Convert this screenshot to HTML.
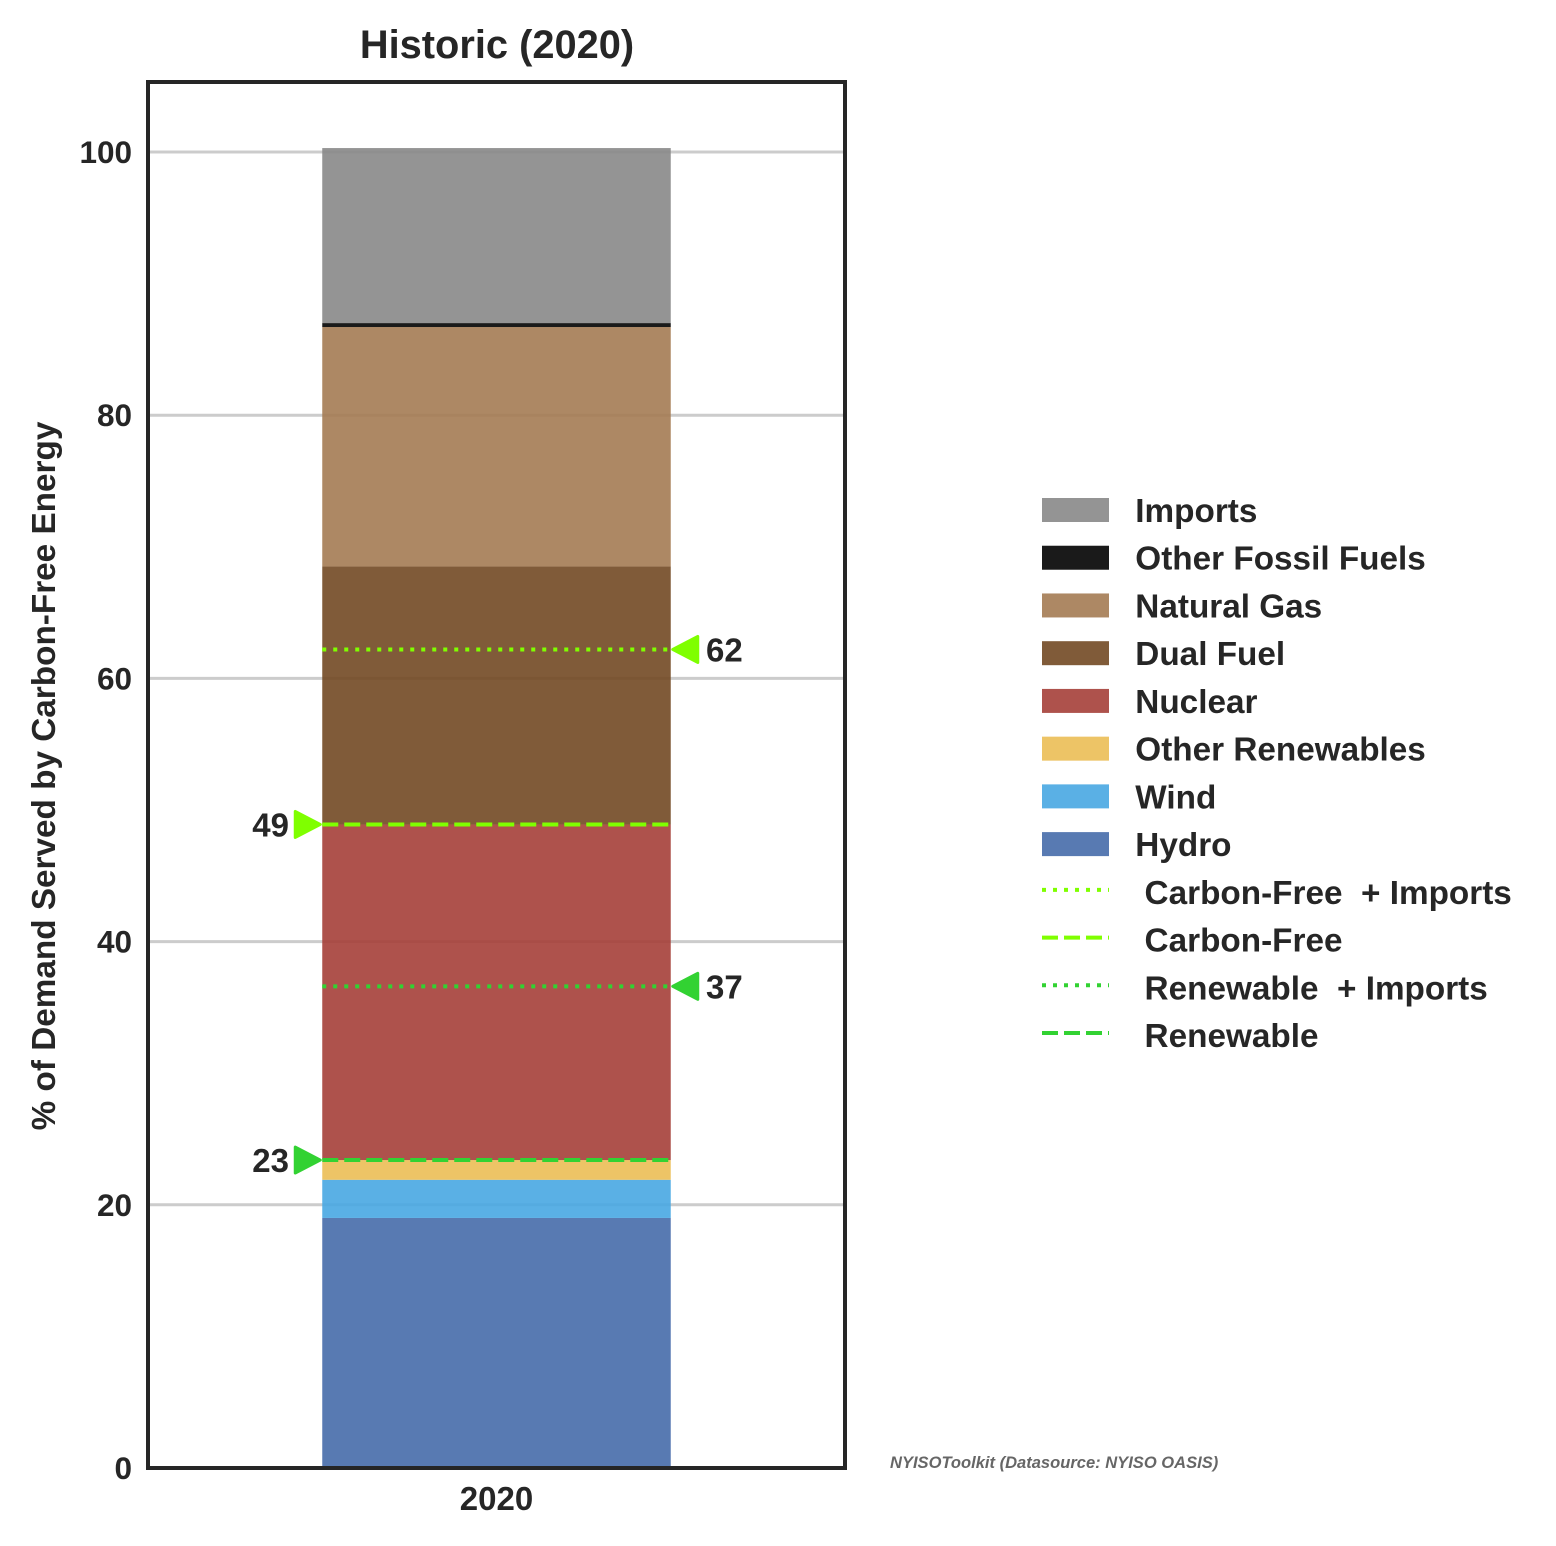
<!DOCTYPE html>
<html lang="en">
<head>
<meta charset="utf-8">
<title>Historic (2020)</title>
<style>
html,body{margin:0;padding:0;background:#fff;}
svg{display:block;}
text{font-family:"Liberation Sans",Arial,sans-serif;font-weight:bold;fill:#262626;}
</style>
</head>
<body>
<svg id="chart" xmlns="http://www.w3.org/2000/svg" width="1556" height="1546" viewBox="0 0 1556 1546"></svg>
<script>
// Chart data
const categories = ['2020'];
const yTicks = [0, 20, 40, 60, 80, 100];
const hydro = [19.0];
const wind = [2.9];
const otherRenewables = [1.5];
const nuclear = [25.5];
const dualFuel = [19.6];
const naturalGas = [18.2];
const otherFossilFuels = [0.3];
const imports = [13.3];
const carbonFreeImports = [62.2];
const carbonFree = [48.9];
const renewableImports = [36.6];
const renewable = [23.4];

const title = 'Historic (2020)';
const yTitle = '% of Demand Served by Carbon-Free Energy';
const credit = 'NYISOToolkit (Datasource: NYISO OASIS)';

const NS = 'http://www.w3.org/2000/svg';
const svg = document.getElementById('chart');
const plot = {left: 148, right: 845, top: 82, bottom: 1468};
const pxPerUnit = 13.16;
const yScale = v => plot.bottom - v * pxPerUnit;
const band = (plot.right - plot.left) / categories.length;
const xScale = i => plot.left + (i + 0.5) * band;
const barWidth = band * 0.5;

function make(tag, attrs, parent) {
  const el = document.createElementNS(NS, tag);
  for (const k in attrs) el.setAttribute(k, attrs[k]);
  (parent || svg).appendChild(el);
  return el;
}
function label(str, x, y, size, anchor, parent) {
  const t = make('text', {x: x, y: y, 'font-size': size, 'text-anchor': anchor}, parent);
  t.textContent = str;
  return t;
}

// Grid lines and y tick labels
yTicks.forEach(v => {
  const line = make('line', {x1: plot.left, x2: plot.right, y1: yScale(v), y2: yScale(v), stroke: '#cccccc', 'stroke-width': 3});
  
  
  const tick = label(String(v), 132, yScale(v) + 11, 31.5, 'end');
  
  
});

// Stacked bars, bottom to top
const stack = [
  {name: 'Hydro', key: 'hydro', values: hydro, color: '#466caa'},
  {name: 'Wind', key: 'wind', values: wind, color: '#48a7e2'},
  {name: 'Other Renewables', key: 'other-renewables', values: otherRenewables, color: '#ebbe55'},
  {name: 'Nuclear', key: 'nuclear', values: nuclear, color: '#a53f39'},
  {name: 'Dual Fuel', key: 'dual-fuel', values: dualFuel, color: '#724924'},
  {name: 'Natural Gas', key: 'natural-gas', values: naturalGas, color: '#a47b53'},
  {name: 'Other Fossil Fuels', key: 'other-fossil-fuels', values: otherFossilFuels, color: '#010101'},
  {name: 'Imports', key: 'imports', values: imports, color: '#888888'}
];
categories.forEach((cat, i) => {
  let base = 0;
  stack.forEach(s => {
    const v = s.values[i];
    const bar = make('rect', {
      x: xScale(i) - barWidth / 2,
      y: yScale(base + v),
      width: barWidth,
      height: yScale(base) - yScale(base + v),
      fill: s.color,
      'fill-opacity': 0.9
    });
    
    
    base += v;
  });
  const catLabel = label(cat, xScale(i), 1510, 33, 'middle');
  
  
});

// Reference lines with arrow markers
const DOT = '4 7';
const DASH = '16 6';
const CF = '#7fff00';
const RN = '#32d232';
const refLines = [
  {name: ' Carbon-Free  + Imports', key: 'carbon-free-imports', values: carbonFreeImports, color: CF, dash: DOT, side: 'right'},
  {name: ' Carbon-Free', key: 'carbon-free', values: carbonFree, color: CF, dash: DASH, side: 'left'},
  {name: ' Renewable  + Imports', key: 'renewable-imports', values: renewableImports, color: RN, dash: DOT, side: 'right'},
  {name: ' Renewable', key: 'renewable', values: renewable, color: RN, dash: DASH, side: 'left'}
];
categories.forEach((cat, i) => {
  const x0 = xScale(i) - barWidth / 2;
  const x1 = xScale(i) + barWidth / 2;
  refLines.forEach(r => {
    const v = r.values[i];
    const y = yScale(v);
    const line = make('line', {x1: x0, x2: x1, y1: y, y2: y, stroke: r.color, 'stroke-width': 4, 'stroke-dasharray': r.dash});
    
    
    const dir = r.side === 'left' ? -1 : 1;
    const tip = r.side === 'left' ? x0 - 2 : x1 + 2;
    const back = tip + dir * 25;
    const marker = make('polygon', {
      points: tip + ',' + y + ' ' + back + ',' + (y - 13) + ' ' + back + ',' + (y + 13),
      fill: r.color, stroke: r.color, 'stroke-width': 3, 'stroke-linejoin': 'round'
    });
    
    
    const text = label(String(Math.round(v)), r.side === 'left' ? 289 : 706, y + 12, 33, r.side === 'left' ? 'end' : 'start');
    
    
  });
});

// Frame
const frame = make('rect', {x: plot.left, y: plot.top, width: plot.right - plot.left, height: plot.bottom - plot.top, fill: 'none', stroke: '#262626', 'stroke-width': 4});



// Titles
const titleEl = label(title, 497, 58, 39.8, 'middle');


const yTitleEl = label(yTitle, 0, 0, 33.3, 'middle');
yTitleEl.setAttribute('transform', 'translate(55 776) rotate(-90)');


const creditEl = label(credit, 890, 1468, 16.55, 'start');
creditEl.setAttribute('font-style', 'italic');
creditEl.setAttribute('style', 'fill:#666666');



// Legend
const legendTop = 510;
const legendStep = 47.73;
const patches = stack.slice().reverse();
patches.forEach((s, i) => {
  const y = legendTop + i * legendStep;
  const swatch = make('rect', {x: 1042, y: y - 12, width: 67, height: 24, fill: s.color, 'fill-opacity': 0.9});
  
  
  const text = label(s.name, 1135.3, y + 12, 33.3, 'start');
  
  
});
refLines.forEach((r, i) => {
  const y = legendTop + (patches.length + i) * legendStep;
  const line = make('line', {x1: 1042, x2: 1109, y1: y - 2, y2: y - 2, stroke: r.color, 'stroke-width': 4, 'stroke-dasharray': r.dash});
  
  
  const text = label(r.name, 1135.3, y + 12, 33.3, 'start');
  text.setAttribute('xml:space', 'preserve');
  text.setAttribute('style', 'white-space:pre');
  
  
});
</script>
</body>
</html>
